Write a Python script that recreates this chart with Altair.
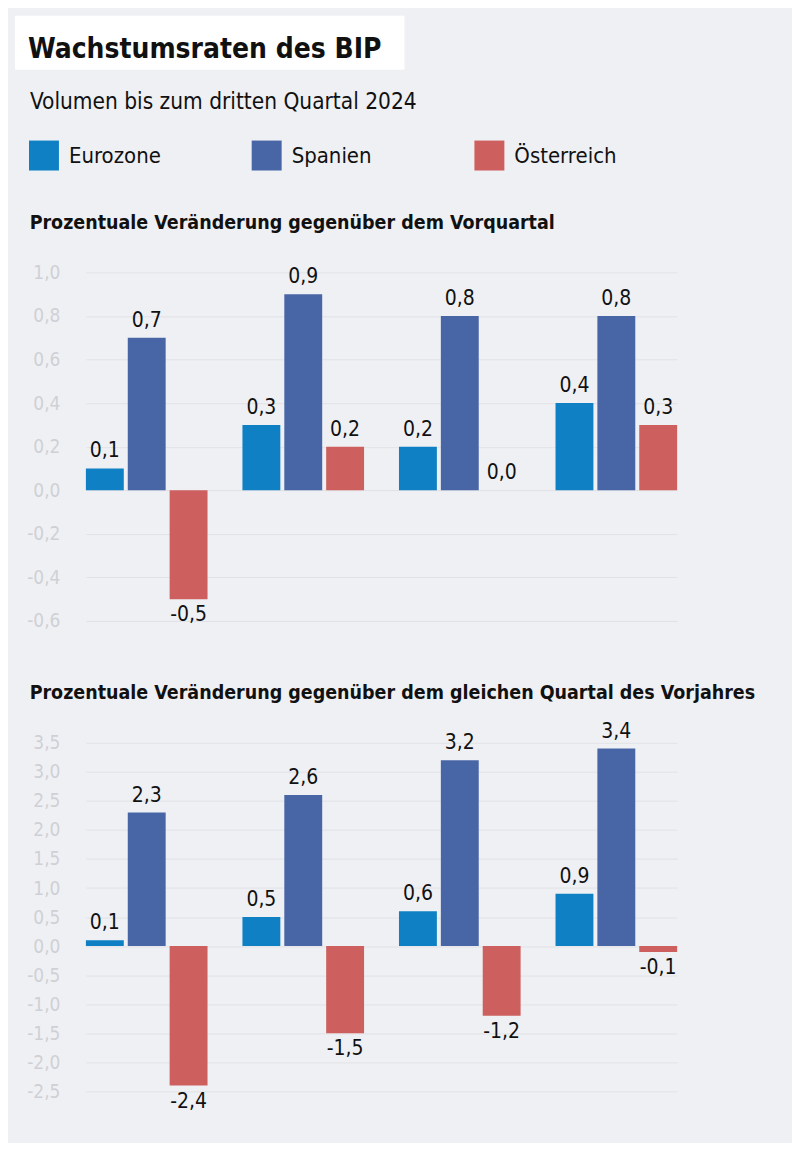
import altair as alt
import pandas as pd

# ---- data ----
quarters = ["Q4 2023", "Q1 2024", "Q2 2024", "Q3 2024"]
countries = ["Eurozone", "Spanien", "Österreich"]
colors = ["#0f80c4", "#4866a6", "#cd5f5e"]

vq_eurozone = [0.1, 0.3, 0.2, 0.4]
vq_spanien = [0.7, 0.9, 0.8, 0.8]
vq_oesterreich = [-0.5, 0.2, 0.0, 0.3]

vj_eurozone = [0.1, 0.5, 0.6, 0.9]
vj_spanien = [2.3, 2.6, 3.2, 3.4]
vj_oesterreich = [-2.4, -1.5, -1.2, -0.1]

ticks_vq = [-0.6, -0.4, -0.2, 0.0, 0.2, 0.4, 0.6, 0.8, 1.0]
ticks_vj = [-2.5, -2.0, -1.5, -1.0, -0.5, 0.0, 0.5, 1.0, 1.5, 2.0, 2.5, 3.0, 3.5]

title_text = "Wachstumsraten des BIP"
subtitle_text = "Volumen bis zum dritten Quartal 2024"
panel1_title = "Prozentuale Veränderung gegenüber dem Vorquartal"
panel2_title = "Prozentuale Veränderung gegenüber dem gleichen Quartal des Vorjahres"

FONT = "DejaVu Sans Condensed"
BG = "#eff0f4"


def long_df(series):
    rows = []
    for c, vals in zip(countries, series):
        for q, v in zip(quarters, vals):
            rows.append({"quarter": q, "country": c, "value": v,
                         "label": f"{v:.1f}".replace(".", ",")})
    return pd.DataFrame(rows)


df_vq = long_df([vq_eurozone, vq_spanien, vq_oesterreich])
df_vj = long_df([vj_eurozone, vj_spanien, vj_oesterreich])

label_expr = "replace(replace(format(datum.value, '.1f'), '.', ','), '\u2212', '-')"


def panel(df, domain, ticks, title, title_offset, show_legend):
    base = alt.Chart(df).encode(
        x=alt.X("quarter:N", sort=quarters, axis=None,
                scale=alt.Scale(range=[18, 610], paddingInner=0.223, paddingOuter=0)),
        xOffset=alt.XOffset("country:N", sort=countries,
                            scale=alt.Scale(paddingInner=0.095, paddingOuter=0)),
        y=alt.Y("value:Q",
                scale=alt.Scale(domain=domain, nice=False, zero=False),
                axis=alt.Axis(values=ticks, labelExpr=label_expr, title=None,
                              domain=False, ticks=False, grid=True,
                              gridColor="#e1e2e6", gridWidth=1,
                              labelColor="#cfd0d5", labelFont=FONT,
                              labelFontSize=19, labelPadding=8)),
    )
    legend = alt.Legend(
        title=None, orient="none", legendX=-39, legendY=132,
        direction="horizontal", columns=3, gridAlign="all",
        symbolType="square", symbolSize=900, symbolStrokeWidth=0,
        symbolOpacity=1, labelFont=FONT, labelFontSize=22, labelColor="#111111",
        labelOffset=10, columnPadding=80,
    ) if show_legend else None
    bars = base.mark_bar().encode(
        color=alt.Color("country:N", sort=countries,
                        scale=alt.Scale(domain=countries, range=colors),
                        legend=legend),
    )
    pos = base.transform_filter("datum.value >= 0").mark_text(
        baseline="bottom", dy=-7, font=FONT, fontSize=21, color="#111111"
    ).encode(text="label:N")
    neg = base.transform_filter("datum.value < 0").mark_text(
        baseline="top", dy=5, font=FONT, fontSize=21, color="#111111"
    ).encode(text="label:N")
    return alt.layer(bars, pos, neg).properties(
        width=610, height=349,
        title=alt.TitleParams(title, anchor="start", font=FONT, fontSize=19.5,
                              fontWeight="bold", color="#111111",
                              offset=title_offset, dx=3),
    )


hdr_data = pd.DataFrame({"k": [0]})
box = alt.Chart(hdr_data).mark_rect(color="white").encode(
    x=alt.value(-53), x2=alt.value(337), y=alt.value(7), y2=alt.value(61))
t1 = alt.Chart(hdr_data).mark_text(
    align="left", baseline="alphabetic", font=FONT, fontSize=28,
    fontWeight="bold", color="#111111").encode(
    x=alt.value(-40), y=alt.value(49), text=alt.value(title_text))
t2 = alt.Chart(hdr_data).mark_text(
    align="left", baseline="alphabetic", font=FONT, fontSize=22.5,
    color="#111111").encode(
    x=alt.value(-38), y=alt.value(100), text=alt.value(subtitle_text))
header = alt.layer(box, t1, t2).properties(width=610, height=152)

p1 = panel(df_vq, [-0.6, 1.0], ticks_vq, panel1_title, 30, True)
p2 = panel(df_vj, [-2.5, 3.5], ticks_vj, panel2_title, 17, False)

chart = alt.vconcat(header, p1, p2, spacing=52).properties(
    padding={"left": 7, "top": 0, "right": 36, "bottom": 30},
    background=BG,
).configure_view(stroke=None).configure_concat(spacing=52)

chart.save("out.html", embed_options={"renderer": "svg", "actions": False})
